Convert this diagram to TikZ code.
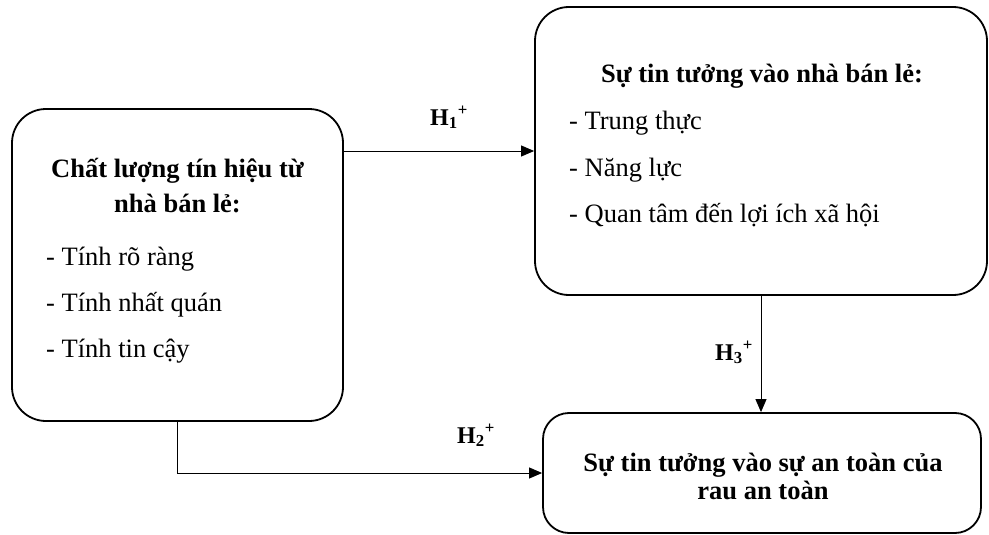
\documentclass[tikz,border=0pt]{standalone}
\usepackage{fontspec}
\setmainfont{Liberation Serif}
\usetikzlibrary{arrows.meta}
\begin{document}
\begin{tikzpicture}[x=1pt,y=-1pt,
  boxstyle/.style={draw, line width=1.8pt, rounded corners=34pt, inner sep=0pt},
  ttl/.style={font=\fontsize{26.5}{30}\selectfont\bfseries, anchor=base, inner sep=0pt},
  item/.style={font=\fontsize{26.5}{30}\selectfont, anchor=base west, inner sep=0pt},
  hlab/.style={font=\fontsize{24}{28}\selectfont\bfseries, anchor=base west, inner sep=0pt},
  arr/.style={line width=0.9pt, -{Triangle[length=13pt,width=11pt]}}]
\useasboundingbox (0,0) rectangle (989,535);
% boxes
\node[boxstyle, minimum width=331pt, minimum height=312pt] (L) at (177.5,265) {};
\node[boxstyle, minimum width=452pt, minimum height=288pt] (T) at (761,151) {};
\node[boxstyle, rounded corners=26pt, minimum width=438pt, minimum height=120pt] (B) at (762,473) {};
% left box text
\node[ttl] (l1) at (177.5,177) {Chất lượng tín hiệu từ};
\node[ttl] (l2) at (177.5,212) {nhà bán lẻ:};
\node[item] (l3) at (46,265) {- Tính rõ ràng};
\node[item] (l4) at (46,311) {- Tính nhất quán};
\node[item] (l5) at (46,357) {- Tính tin cậy};
% top-right box text
\node[ttl] (t1) at (762,83) {Sự tin tưởng vào nhà bán lẻ:};
\node[item] (t2) at (569,129) {- Trung thực};
\node[item] (t3) at (569,176) {- Năng lực};
\node[item] (t4) at (569,222) {- Quan tâm đến lợi ích xã hội};
% bottom box text
\node[ttl] (b1) at (763,471) {Sự tin tưởng vào sự an toàn của};
\node[ttl] (b2) at (763,499) {rau an toàn};
% connectors
\draw[arr] (L.east |- T.west) -- (T.west);
\draw[arr] (T.south) -- (T.south |- B.north);
\draw[arr] (L.south) |- (B.west);
% labels
\node[hlab] (h1) at (430,125) {H\textsubscript{1}\textsuperscript{+}};
\node[hlab] (h2) at (457,443) {H\textsubscript{2}\textsuperscript{+}};
\node[hlab] (h3) at (715,360) {H\textsubscript{3}\textsuperscript{+}};
\end{tikzpicture}
\end{document}
